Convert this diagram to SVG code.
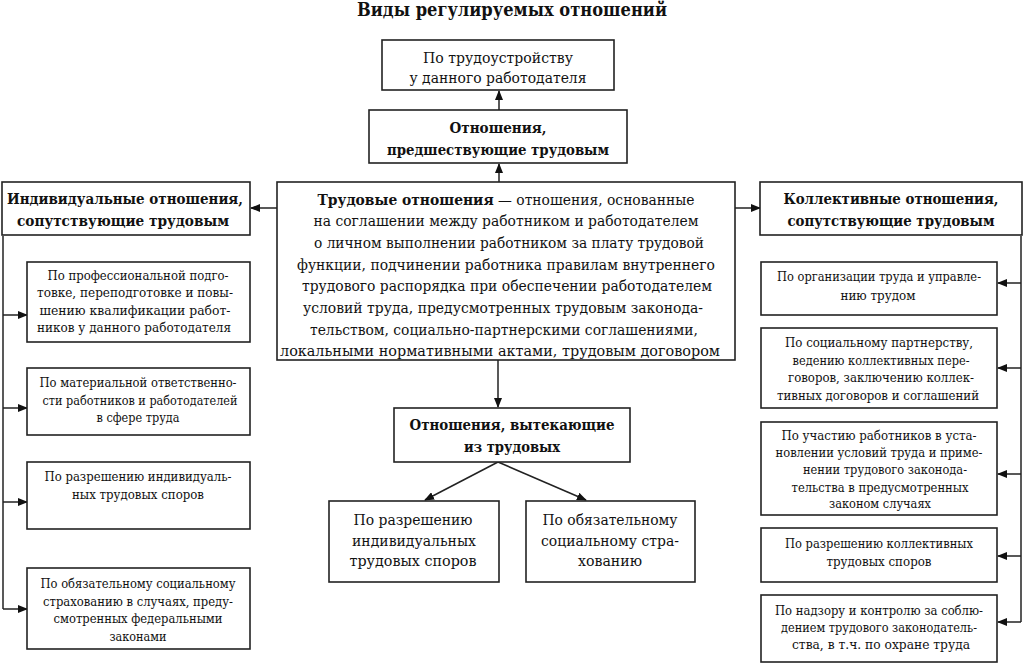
<svg xmlns="http://www.w3.org/2000/svg" width="1024" height="663" viewBox="0 0 1024 663" font-family="DejaVu Serif, serif">
<style>
text{fill:#111;text-anchor:middle}
.t{font-size:18px;font-weight:bold}
.b{font-size:14.5px;font-weight:bold}
.m{font-size:15px}
.s{font-size:12.4px}
rect{fill:#fff;stroke:#222;stroke-width:1.6}
.c line,.c path{stroke:#222;stroke-width:1.5;fill:none}
</style>
<defs>
<marker id="ah" markerWidth="10" markerHeight="8" refX="9" refY="4" orient="auto" markerUnits="userSpaceOnUse">
<path d="M0,0 L10,4 L0,8 Z" fill="#111"/>
</marker>
</defs>
<rect x="0" y="0" width="1024" height="663" style="fill:#fff;stroke:none"/>
<text class="t" x="512" y="16" textLength="310" lengthAdjust="spacingAndGlyphs">Виды регулируемых отношений</text>

<g class="c">
<line x1="499" y1="182" x2="499" y2="164" marker-end="url(#ah)"/>
<line x1="499" y1="110" x2="499" y2="91" marker-end="url(#ah)"/>
<line x1="277" y1="208" x2="251" y2="208" marker-end="url(#ah)"/>
<line x1="735" y1="208" x2="760" y2="208" marker-end="url(#ah)"/>
<line x1="498" y1="360" x2="498" y2="407" marker-end="url(#ah)"/>
<line x1="498" y1="462" x2="425" y2="500" marker-end="url(#ah)"/>
<line x1="498" y1="462" x2="586" y2="500" marker-end="url(#ah)"/>
<path d="M3,236 V609"/>
<line x1="3" y1="315" x2="27" y2="315" marker-end="url(#ah)"/>
<line x1="3" y1="408" x2="27" y2="408" marker-end="url(#ah)"/>
<line x1="3" y1="502" x2="27" y2="502" marker-end="url(#ah)"/>
<line x1="3" y1="609" x2="27" y2="609" marker-end="url(#ah)"/>
<path d="M1021,236 V622"/>
<line x1="1021" y1="283" x2="998" y2="283" marker-end="url(#ah)"/>
<line x1="1021" y1="368" x2="998" y2="368" marker-end="url(#ah)"/>
<line x1="1021" y1="474" x2="998" y2="474" marker-end="url(#ah)"/>
<line x1="1021" y1="556" x2="998" y2="556" marker-end="url(#ah)"/>
<line x1="1021" y1="622" x2="998" y2="622" marker-end="url(#ah)"/>
</g>

<g id="employment">
<rect x="382" y="40" width="232" height="50"/>
<text class="m" x="498" y="63" textLength="150" lengthAdjust="spacingAndGlyphs">По трудоустройству</text>
<text class="m" x="498" y="83" textLength="177" lengthAdjust="spacingAndGlyphs">у данного работодателя</text>
</g>

<g id="preceding">
<rect x="369" y="110" width="258" height="53"/>
<text class="b" x="498" y="133" textLength="97" lengthAdjust="spacingAndGlyphs">Отношения,</text>
<text class="b" x="498" y="155" textLength="222" lengthAdjust="spacingAndGlyphs">предшествующие трудовым</text>
</g>

<g id="labor">
<rect x="277" y="182" width="458" height="178"/>
<text class="m" x="506" y="205" textLength="377" lengthAdjust="spacingAndGlyphs"><tspan font-weight="bold">Трудовые отношения</tspan> — отношения, основанные</text>
<text class="m" x="506" y="226" textLength="385" lengthAdjust="spacingAndGlyphs">на соглашении между работником и работодателем</text>
<text class="m" x="509" y="248" textLength="390" lengthAdjust="spacingAndGlyphs">о личном выполнении работником за плату трудовой</text>
<text class="m" x="506" y="270" textLength="418" lengthAdjust="spacingAndGlyphs">функции, подчинении работника правилам внутреннего</text>
<text class="m" x="507" y="291" textLength="410" lengthAdjust="spacingAndGlyphs">трудового распорядка при обеспечении работодателем</text>
<text class="m" x="503" y="313" textLength="400" lengthAdjust="spacingAndGlyphs">условий труда, предусмотренных трудовым законода-</text>
<text class="m" x="504" y="335" textLength="388" lengthAdjust="spacingAndGlyphs">тельством, социально-партнерскими соглашениями,</text>
<text class="m" x="500" y="356" textLength="440" lengthAdjust="spacingAndGlyphs">локальными нормативными актами, трудовым договором</text>
</g>

<g id="individual">
<rect x="2" y="182" width="248" height="53"/>
<text class="b" x="125" y="204" textLength="236" lengthAdjust="spacingAndGlyphs">Индивидуальные отношения,</text>
<text class="b" x="123" y="226" textLength="212" lengthAdjust="spacingAndGlyphs">сопутствующие трудовым</text>
</g>

<g id="collective">
<rect x="760" y="182" width="262" height="53"/>
<text class="b" x="891" y="204" textLength="215" lengthAdjust="spacingAndGlyphs">Коллективные отношения,</text>
<text class="b" x="891" y="226" textLength="207" lengthAdjust="spacingAndGlyphs">сопутствующие трудовым</text>
</g>

<g id="ind1">
<rect x="27" y="262" width="223" height="80"/>
<text class="s" x="138" y="280" textLength="181" lengthAdjust="spacingAndGlyphs">По профессиональной подго-</text>
<text class="s" x="135" y="297" textLength="196" lengthAdjust="spacingAndGlyphs">товке, переподготовке и повы-</text>
<text class="s" x="135" y="315" textLength="191" lengthAdjust="spacingAndGlyphs">шению квалификации работ-</text>
<text class="s" x="134" y="332" textLength="194" lengthAdjust="spacingAndGlyphs">ников у данного работодателя</text>
</g>

<g id="ind2">
<rect x="27" y="368" width="223" height="67"/>
<text class="s" x="138" y="387" textLength="197" lengthAdjust="spacingAndGlyphs">По материальной ответственно-</text>
<text class="s" x="140" y="405" textLength="195" lengthAdjust="spacingAndGlyphs">сти работников и работодателей</text>
<text class="s" x="138" y="422" textLength="83" lengthAdjust="spacingAndGlyphs">в сфере труда</text>
</g>

<g id="ind3">
<rect x="27" y="462" width="223" height="67"/>
<text class="s" x="138" y="481" textLength="187" lengthAdjust="spacingAndGlyphs">По разрешению индивидуаль-</text>
<text class="s" x="138" y="499" textLength="132" lengthAdjust="spacingAndGlyphs">ных трудовых споров</text>
</g>

<g id="ind4">
<rect x="27" y="568" width="223" height="81"/>
<text class="s" x="138" y="588" textLength="195" lengthAdjust="spacingAndGlyphs">По обязательному социальному</text>
<text class="s" x="138" y="606" textLength="190" lengthAdjust="spacingAndGlyphs">страхованию в случаях, преду-</text>
<text class="s" x="138" y="623" textLength="169" lengthAdjust="spacingAndGlyphs">смотренных федеральными</text>
<text class="s" x="138" y="641" textLength="57" lengthAdjust="spacingAndGlyphs">законами</text>
</g>

<g id="col1">
<rect x="761" y="262" width="236" height="53"/>
<text class="s" x="879" y="281" textLength="204" lengthAdjust="spacingAndGlyphs">По организации труда и управле-</text>
<text class="s" x="878" y="300" textLength="75" lengthAdjust="spacingAndGlyphs">нию трудом</text>
</g>

<g id="col2">
<rect x="761" y="328" width="236" height="80"/>
<text class="s" x="879" y="347" textLength="188" lengthAdjust="spacingAndGlyphs">По социальному партнерству,</text>
<text class="s" x="881" y="365" textLength="177" lengthAdjust="spacingAndGlyphs">ведению коллективных пере-</text>
<text class="s" x="881" y="382" textLength="186" lengthAdjust="spacingAndGlyphs">говоров, заключению коллек-</text>
<text class="s" x="878" y="400" textLength="202" lengthAdjust="spacingAndGlyphs">тивных договоров и соглашений</text>
</g>

<g id="col3">
<rect x="761" y="422" width="236" height="93"/>
<text class="s" x="879" y="440" textLength="195" lengthAdjust="spacingAndGlyphs">По участию работников в уста-</text>
<text class="s" x="879" y="457" textLength="207" lengthAdjust="spacingAndGlyphs">новлении условий труда и приме-</text>
<text class="s" x="885" y="474" textLength="164" lengthAdjust="spacingAndGlyphs">нении трудового законода-</text>
<text class="s" x="880" y="492" textLength="177" lengthAdjust="spacingAndGlyphs">тельства в предусмотренных</text>
<text class="s" x="880" y="508" textLength="102" lengthAdjust="spacingAndGlyphs">законом случаях</text>
</g>

<g id="col4">
<rect x="761" y="528" width="236" height="54"/>
<text class="s" x="879" y="548" textLength="188" lengthAdjust="spacingAndGlyphs">По разрешению коллективных</text>
<text class="s" x="879" y="566" textLength="105" lengthAdjust="spacingAndGlyphs">трудовых споров</text>
</g>

<g id="col5">
<rect x="761" y="595" width="236" height="67"/>
<text class="s" x="879" y="615" textLength="208" lengthAdjust="spacingAndGlyphs">По надзору и контролю за соблю-</text>
<text class="s" x="879" y="632" textLength="196" lengthAdjust="spacingAndGlyphs">дением трудового законодатель-</text>
<text class="s" x="881" y="649" textLength="178" lengthAdjust="spacingAndGlyphs">ства, в т.ч. по охране труда</text>
</g>

<g id="derived">
<rect x="394" y="408" width="236" height="54"/>
<text class="b" x="512" y="430" textLength="205" lengthAdjust="spacingAndGlyphs">Отношения, вытекающие</text>
<text class="b" x="512" y="452" textLength="96" lengthAdjust="spacingAndGlyphs">из трудовых</text>
</g>

<g id="disputes">
<rect x="329" y="501" width="170" height="81"/>
<text class="m" x="413" y="525" textLength="119" lengthAdjust="spacingAndGlyphs">По разрешению</text>
<text class="m" x="414" y="546" textLength="124" lengthAdjust="spacingAndGlyphs">индивидуальных</text>
<text class="m" x="413" y="566" textLength="127" lengthAdjust="spacingAndGlyphs">трудовых споров</text>
</g>

<g id="insurance">
<rect x="526" y="501" width="169" height="81"/>
<text class="m" x="610" y="525" textLength="135" lengthAdjust="spacingAndGlyphs">По обязательному</text>
<text class="m" x="610" y="546" textLength="138" lengthAdjust="spacingAndGlyphs">социальному стра-</text>
<text class="m" x="610" y="566" textLength="64" lengthAdjust="spacingAndGlyphs">хованию</text>
</g>
</svg>
